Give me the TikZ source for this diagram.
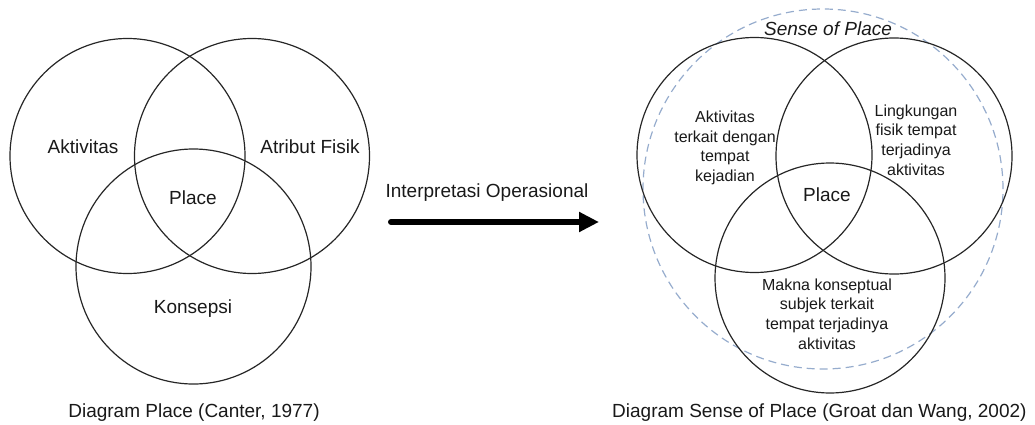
\documentclass[tikz,border=0pt]{standalone}
\usepackage{fontspec}
\setmainfont{Liberation Sans}
\usetikzlibrary{arrows.meta}
\tikzset{
  venn/.style={circle, draw=black!85, line width=1.2pt, minimum size=#1, inner sep=0pt},
  lbl/.style={font=\fontsize{19}{22}\selectfont, text=black!90, inner sep=0pt},
  small/.style={font=\fontsize{16}{19.6}\selectfont, text=black!90, align=center, inner sep=0pt},
  sop/.style={circle, draw={rgb,255:red,150;green,172;blue,205}, dash pattern=on 8pt off 5pt, line width=1.2pt, minimum size=#1, inner sep=0pt}
}
\begin{document}
\begin{tikzpicture}[x=1pt,y=-1pt]
\useasboundingbox (0,0) rectangle (1035,425);
% left diagram
\node[venn=235pt] (la) at (127.5,156) {};
\node[venn=235pt] (lb) at (252,156) {};
\node[venn=235pt] (lc) at (193.5,266.5) {};
\node[lbl] (tla) at (83,147) {Aktivitas};
\node[lbl] (tlb) at (310,147) {Atribut Fisik};
\node[lbl] (tlp) at (193,198) {Place};
\node[lbl] (tlc) at (193,309) {Konsepsi};
\node[lbl] (capl) at (194,413) {Diagram Place (Canter, 1977)};
% arrow
\node[lbl] (arrt) at (487,193) {Interpretasi Operasional};
\coordinate (arrs) at (391,222);
\coordinate (arre) at (599,222);
\draw[line width=6pt, line cap=round, -{Triangle[length=20pt,width=19pt]}] (arrs) -- (arre);
% right diagram
\node[sop=360pt] (sp) at (823,189) {};
\node[venn=235pt] (ra) at (754.5,155) {};
\node[venn=236pt] (rb) at (894,156) {};
\node[venn=230pt] (rc) at (830,278) {};
\node[lbl, font=\fontsize{19}{22}\selectfont\itshape] (tsp) at (828,29) {Sense of Place};
\node[small] (tra) at (725,148) {Aktivitas\\terkait dengan\\tempat\\kejadian};
\node[small] (trb) at (916,140) {Lingkungan\\fisik tempat\\terjadinya\\aktivitas};
\node[lbl] (trp) at (827,195) {Place};
\node[small] (trc) at (827,314) {Makna konseptual\\subjek terkait\\tempat terjadinya\\aktivitas};
\node[lbl, anchor=west] (capr) at (612,413) {Diagram Sense of Place (Groat dan Wang, 2002)};
\end{tikzpicture}
\end{document}
